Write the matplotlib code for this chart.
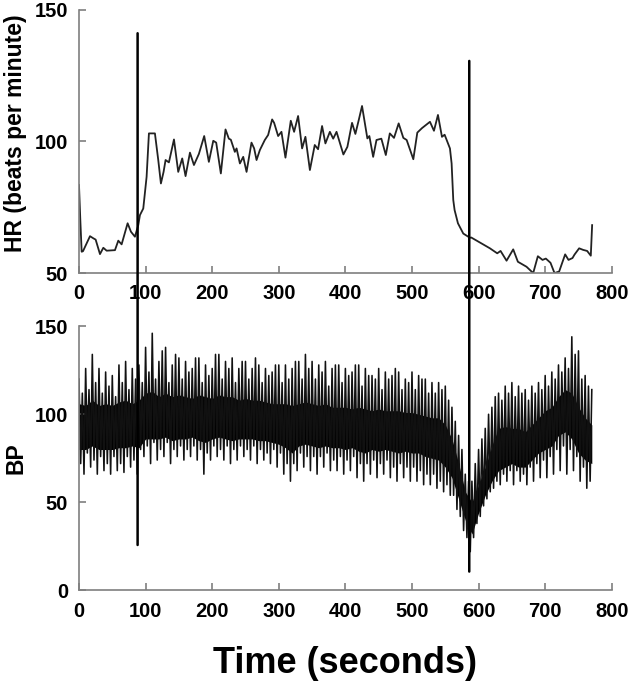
import numpy as np
import matplotlib
matplotlib.use("Agg")
import matplotlib.pyplot as plt
from matplotlib.patches import ConnectionPatch

plt.rcParams['font.family'] = ['Liberation Sans', 'DejaVu Sans']
plt.rcParams['font.weight'] = 'bold'

# ---------------- data ----------------
hr_t = [0, 2, 4, 6, 11, 16.5, 21.5, 25, 31.5, 36.5, 41.5, 54, 59, 64, 73, 78, 84, 89, 91.5,
        96.5, 101.5, 105, 114, 119, 123, 127, 130, 135, 142.6, 149, 155, 160, 166.6, 172.6,
        180, 188, 195, 201.6, 206, 213, 220, 225, 228, 234, 236.6, 241.6, 246.6, 251.6, 259,
        263, 266.6, 271.6, 279, 284, 290, 293, 299, 304, 310, 318, 323, 329, 335, 340, 346.7,
        354, 359, 365, 370, 376.7, 381.7, 386.7, 389, 397, 403, 410, 415, 420, 425, 433, 436,
        441.7, 446.7, 454, 460.7, 466.7, 473, 480, 487, 492, 502, 508, 515, 527, 533, 539,
        545, 549, 557, 559.5, 562, 564, 569, 577, 587, 589, 602, 617, 628, 633, 642, 652, 659,
        672, 682, 689, 696, 701, 708, 714, 721, 730, 735, 741, 744, 751, 757, 763, 768.5, 770.5]
hr_v = [83.4, 70, 58.1, 58.3, 61, 64, 63.2, 62.7, 57.2, 59.6, 58.5, 58.7, 62.3, 60.9, 68.9,
        65.7, 63.8, 68.2, 72, 74.5, 86.5, 103, 103, 92.9, 84, 88.4, 92.9, 92, 100.7, 88.4, 93.5,
        86.8, 95.7, 91, 95.2, 102, 92.2, 100.2, 99.5, 87.8, 104.5, 101, 100.6, 96, 97.3, 91.6,
        94.1, 88.4, 99.5, 97.3, 92.9, 96.7, 100.5, 102.4, 108.3, 107, 102, 103.6, 93.8, 107.8,
        103.6, 109.6, 97.3, 101.7, 89.1, 98.6, 97, 105.8, 99.2, 103.6, 101, 103.6, 101.7, 95,
        97.9, 107, 102.8, 108, 113.4, 101.1, 102, 94.1, 100.5, 101, 94.8, 103, 101.3, 106.8,
        101.3, 100.5, 93.2, 103.3, 105, 107.4, 104, 110, 101.7, 102.5, 97.3, 91.6, 77.7, 73.9,
        68.9, 65, 63.4, 63.5, 61.6, 59.4, 57.5, 58.4, 54.7, 59, 54.3, 52.4, 50, 56.4, 55, 55.5,
        53.9, 50, 50.6, 57.1, 55, 55.7, 57, 59.4, 58.8, 58.4, 56.6, 68.2]

# BP: systolic peaks read every 5 s (t = 0, 5, ... 770)
bp_peak = [120, 112, 126, 114, 134, 118, 126, 112, 124, 116, 122, 110, 128, 118, 130, 114,
           126, 120, 128, 118, 138, 124, 146, 120, 130, 136, 138, 118, 128, 134, 132, 120,
           130, 124, 126, 132, 132, 118, 128, 122, 126, 134, 134, 120, 130, 126, 132, 118,
           126, 130, 130, 120, 126, 132, 128, 118, 126, 122, 124, 128, 128, 118, 128, 120,
           126, 130, 130, 120, 134, 126, 130, 120, 128, 124, 130, 116, 126, 128, 128, 118,
           126, 122, 124, 128, 128, 116, 126, 122, 122, 120, 126, 114, 124, 120, 122, 126,
           124, 114, 120, 118, 124, 114, 122, 120, 120, 112, 118, 112, 118, 114, 116, 108,
           104, 96, 88, 80, 66, 62, 62, 72, 80, 86, 92, 100, 104, 110, 112, 108, 116, 112,
           118, 110, 116, 112, 114, 108, 116, 112, 118, 114, 122, 116, 124, 120, 128, 124,
           132, 126, 144, 134, 136, 120, 122, 116, 114]
# BP: diastolic troughs read every 5 s (t = 2.5, 7.5, ... 767.5)
bp_trough = [72, 66, 78, 70, 74, 66, 76, 68, 72, 66, 76, 68, 72, 67, 76, 70, 74, 66, 80, 76,
             82, 72, 84, 74, 80, 76, 84, 72, 80, 76, 82, 74, 80, 76, 82, 74, 80, 66, 78, 74,
             82, 76, 80, 74, 82, 72, 80, 74, 82, 76, 80, 74, 82, 72, 80, 74, 78, 72, 80, 70,
             78, 66, 72, 62, 72, 68, 78, 70, 76, 68, 76, 66, 76, 70, 78, 68, 74, 68, 76, 66,
             74, 68, 76, 64, 72, 62, 72, 66, 74, 64, 72, 66, 74, 64, 70, 62, 72, 64, 70, 62,
             70, 62, 68, 60, 66, 60, 66, 58, 62, 56, 60, 54, 54, 46, 42, 34, 30, 22, 30, 38,
             42, 48, 52, 56, 58, 62, 60, 66, 62, 68, 60, 68, 62, 66, 60, 70, 62, 72, 64, 74,
             64, 76, 66, 80, 68, 82, 66, 80, 68, 76, 62, 70, 58, 62]

# dense core band of the BP trace, every 10 s (t = 0 ... 770)
bp_hi = [106, 105, 108, 105, 106, 105, 107, 108, 106, 108, 112, 113, 110, 112, 110, 111,
         110, 109, 111, 110, 109, 111, 110, 110, 108, 109, 108, 108, 107, 106, 106, 106,
         105, 106, 107, 106, 105, 106, 104, 104, 104, 103, 104, 103, 102, 103, 102, 102,
         102, 101, 101, 100, 99, 98, 98, 94, 86, 72, 56, 50, 60, 70, 82, 92, 93,
         92, 92, 90, 94, 98, 102, 104, 110, 114, 112, 104, 98, 94]
bp_lo = [80, 80, 82, 80, 80, 80, 81, 81, 82, 81, 86, 86, 86, 87, 85, 86, 86, 87, 85, 84,
         86, 87, 86, 85, 86, 86, 86, 85, 85, 84, 83, 81, 78, 82, 83, 82, 81, 82, 81, 81,
         80, 81, 79, 78, 80, 79, 80, 79, 78, 79, 78, 78, 76, 75, 74, 70, 64, 52, 40, 32,
         44, 54, 62, 68, 70, 72, 70, 70, 74, 78, 80, 82, 88, 90, 86, 78, 74, 72]

marker_t = [88, 586]
marker_hr_top = [141, 130.5]
marker_bp_bottom = [25.8, 10.7]

x_ticks = [0, 100, 200, 300, 400, 500, 600, 700, 800]
hr_ticks = [50, 100, 150]
bp_ticks = [0, 50, 100, 150]

peak_t = [5 * i for i in range(len(bp_peak))]
trough_t = [2.5 + 5 * i for i in range(len(bp_trough))]
core_t = [10 * i for i in range(len(bp_hi))]

# interleave peaks and troughs into one trace
bp_x, bp_y = [], []
for i in range(len(bp_peak)):
    bp_x.append(peak_t[i]); bp_y.append(bp_peak[i])
    if i < len(bp_trough):
        bp_x.append(trough_t[i]); bp_y.append(bp_trough[i])

# ---------------- figure ----------------
fig = plt.figure(figsize=(6.32, 6.81), dpi=100)
ax1 = fig.add_axes([0.125, 0.599, 0.843, 0.387])
ax2 = fig.add_axes([0.125, 0.133, 0.843, 0.388])

spine_col = '#7f7f7f'
for ax in (ax1, ax2):
    for s in ('top', 'right'):
        ax.spines[s].set_visible(False)
    for s in ('left', 'bottom'):
        ax.spines[s].set_color(spine_col)
        ax.spines[s].set_linewidth(1.2)
    ax.tick_params(direction='in', length=5, width=1.2, color=spine_col,
                   labelsize=14.5, pad=8)
    ax.set_xlim(0, 800)
    ax.set_xticks(x_ticks)
    for lab in ax.get_xticklabels() + ax.get_yticklabels():
        lab.set_fontweight('bold')

ax1.plot(hr_t, hr_v, color='#222222', lw=1.3)
ax1.set_ylim(50, 150)
ax1.set_yticks(hr_ticks)
ax1.set_ylabel('HR (beats per minute)', fontsize=16.5, fontweight='bold')
ax1.yaxis.set_label_coords(-0.097, 0.53)

ax2.fill_between(core_t, bp_lo, bp_hi, color='black', lw=0)
ax2.plot(bp_x, bp_y, color='#111111', lw=1.15)
ax2.set_ylim(0, 150)
ax2.set_yticks(bp_ticks)
ax2.set_ylabel('BP', fontsize=16.5, fontweight='bold')
ax2.yaxis.set_label_coords(-0.097, 0.5)
ax2.set_xlabel('Time (seconds)', fontsize=26, fontweight='bold', labelpad=18)

for t, top, bot in zip(marker_t, marker_hr_top, marker_bp_bottom):
    con = ConnectionPatch(xyA=(t, top), coordsA='data', axesA=ax1,
                          xyB=(t, bot), coordsB='data', axesB=ax2,
                          color='black', lw=1.8)
    fig.add_artist(con)

fig.savefig('out.png', dpi=100)
